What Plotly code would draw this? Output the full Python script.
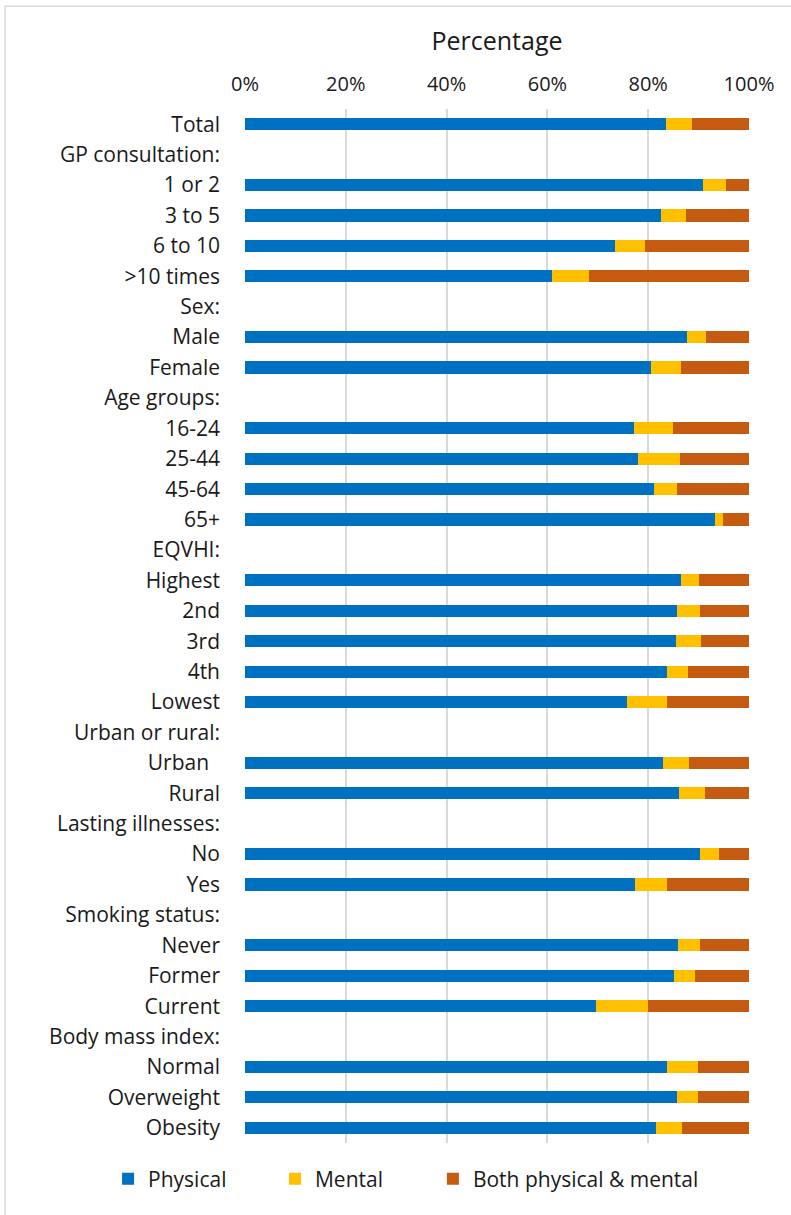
import plotly.graph_objects as go

categories = [
    "Total", "GP consultation:", "1 or 2", "3 to 5", "6 to 10", ">10 times",
    "Sex:", "Male", "Female",
    "Age groups:", "16-24", "25-44", "45-64", "65+",
    "EQVHI:", "Highest", "2nd", "3rd", "4th", "Lowest",
    "Urban or rural:", "Urban\u00a0\u00a0", "Rural",
    "Lasting illnesses:", "No", "Yes",
    "Smoking status:", "Never", "Former", "Current",
    "Body mass index:", "Normal", "Overweight", "Obesity",
]

physical = [83.5, None, 90.9, 82.5, 73.4, 60.9,
            None, 87.6, 80.5,
            None, 77.2, 78.0, 81.1, 93.2,
            None, 86.6, 85.7, 85.6, 83.7, 75.7,
            None, 82.9, 86.2,
            None, 90.2, 77.3,
            None, 86.0, 85.2, 69.6,
            None, 83.8, 85.8, 81.5]

mental = [5.1, None, 4.6, 4.9, 6.0, 7.3,
          None, 3.9, 6.0,
          None, 7.7, 8.4, 4.7, 1.6,
          None, 3.5, 4.6, 4.9, 4.1, 8.0,
          None, 5.1, 5.0,
          None, 3.8, 6.4,
          None, 4.3, 4.0, 10.3,
          None, 6.0, 4.0, 5.3]

both = [11.4, None, 4.5, 12.6, 20.6, 31.8,
        None, 8.5, 13.5,
        None, 15.1, 13.6, 14.2, 5.2,
        None, 9.9, 9.7, 9.5, 12.2, 16.3,
        None, 12.0, 8.8,
        None, 6.0, 16.3,
        None, 9.7, 10.8, 20.1,
        None, 10.2, 10.2, 13.2]

tick_vals = [0, 20, 40, 60, 80, 100]
tick_text = ["0%", "20%", "40%", "60%", "80%", "100%"]

series = [
    ("Physical", physical, "#0070C0", "legend", 108),
    ("Mental", mental, "#FFC000", "legend2", 275),
    ("Both physical &amp; mental", both, "#C55A11", "legend3", 433),
]

FONT = "Open Sans"
TXT = "#1a1a1a"
PLOT_L, PLOT_W = 245, 504.3

fig = go.Figure()
legends = {}
for name, vals, color, leg, px in series:
    fig.add_trace(go.Bar(
        y=categories, x=vals, name=name, orientation="h",
        marker=dict(color=color, line=dict(width=0)),
        legend=leg,
    ))
    legends[leg] = dict(
        orientation="h", x=(px - PLOT_L) / PLOT_W, xanchor="left",
        y=-0.035, yanchor="middle",
        font=dict(size=21, family=FONT, color=TXT),
        bgcolor="rgba(0,0,0,0)",
    )

fig.update_layout(
    width=791, height=1215,
    barmode="stack", bargap=0.6,
    paper_bgcolor="white", plot_bgcolor="white",
    margin=dict(l=245, r=42, t=109, b=72),
    font=dict(family=FONT, color=TXT, size=21),
    showlegend=True,
    shapes=[dict(
        type="rect", xref="paper", yref="paper",
        x0=(5 - PLOT_L) / PLOT_W, x1=1.2, y0=-0.2, y1=(1143.2 - 6) / 1034.4,
        line=dict(color="#d9d9d9", width=1.5), fillcolor="rgba(0,0,0,0)", layer="below",
    )],
    **legends,
)

fig.update_xaxes(
    side="top", range=[0, 100],
    tickvals=tick_vals, ticktext=tick_text,
    showgrid=True, gridcolor="#d9d9d9", gridwidth=1.5,
    zeroline=False, showline=False,
    tickfont=dict(size=20, family=FONT, color=TXT),
    ticklabelstandoff=13,
    title=dict(text="Percentage", font=dict(size=25, family=FONT, color=TXT), standoff=12),
)

fig.update_yaxes(
    type="category", categoryorder="array", categoryarray=categories,
    autorange="reversed",
    showgrid=False, zeroline=False, showline=False,
    tickfont=dict(size=21, family=FONT, color=TXT),
    ticklabelstandoff=24,
)

fig.write_html("out.html")
